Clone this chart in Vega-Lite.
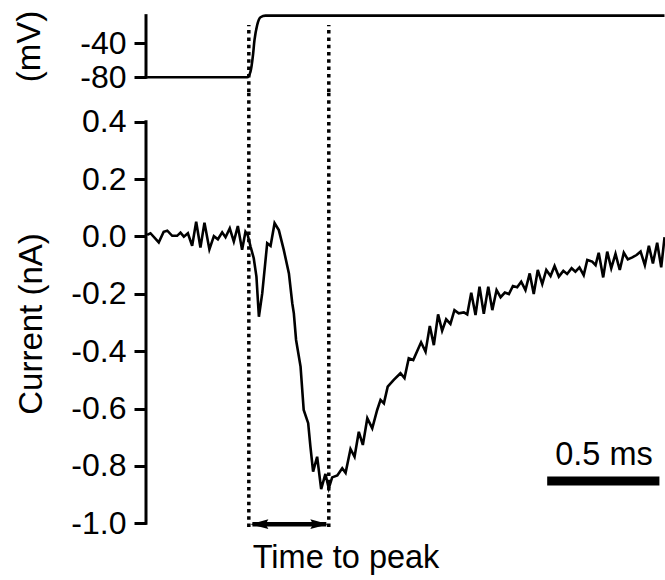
{
  "$schema": "https://vega.github.io/schema/vega-lite/v6.json",
  "background": "white",
  "padding": {"left": 13, "top": 0, "right": 0, "bottom": 0},
  "spacing": 0,
  "bounds": "flush",
  "config": {
    "view": {"stroke": null},
    "font": "Liberation Sans",
    "axis": {
      "domain": false, "grid": false, "ticks": true, "tickColor": "black", "tickWidth": 3, "tickSize": 12,
      "labelFont": "Liberation Sans", "labelFontSize": 32, "labelColor": "black", "labelPadding": 8,
      "titleFont": "Liberation Sans", "titleFontSize": 33, "titleFontWeight": "normal", "titleColor": "black"
    }
  },
  "datasets": {
    "voltage": [
      {"t": 0.005, "v": -80}, {"t": 0.452, "v": -80}, {"t": 0.4665, "v": -73.4}, {"t": 0.4768, "v": -55.8},
      {"t": 0.4844, "v": -36.1}, {"t": 0.4964, "v": -18.5}, {"t": 0.5112, "v": -9.4}, {"t": 0.5335, "v": -7.5},
      {"t": 2.3147, "v": -7.5}
    ],
    "current": [
      {"t": 0.005, "i": 0.005}, {"t": 0.020, "i": 0.011}, {"t": 0.057, "i": -0.021}, {"t": 0.079, "i": 0.016},
      {"t": 0.095, "i": 0.020}, {"t": 0.117, "i": 0.002}, {"t": 0.139, "i": 0.002}, {"t": 0.154, "i": 0.013},
      {"t": 0.169, "i": -0.001}, {"t": 0.187, "i": 0.011}, {"t": 0.206, "i": -0.033}, {"t": 0.224, "i": 0.051},
      {"t": 0.243, "i": -0.039}, {"t": 0.261, "i": 0.048}, {"t": 0.283, "i": -0.045}, {"t": 0.303, "i": 0.001},
      {"t": 0.321, "i": -0.010}, {"t": 0.340, "i": 0.014}, {"t": 0.355, "i": -0.003}, {"t": 0.374, "i": 0.028},
      {"t": 0.392, "i": -0.018}, {"t": 0.410, "i": 0.036}, {"t": 0.429, "i": -0.047}, {"t": 0.444, "i": 0.016},
      {"t": 0.454, "i": 0.005}, {"t": 0.467, "i": -0.036}, {"t": 0.481, "i": -0.076}, {"t": 0.493, "i": -0.140},
      {"t": 0.504, "i": -0.280}, {"t": 0.519, "i": -0.198}, {"t": 0.541, "i": -0.024}, {"t": 0.556, "i": -0.033},
      {"t": 0.574, "i": 0.046}, {"t": 0.593, "i": 0.022}, {"t": 0.615, "i": -0.047}, {"t": 0.638, "i": -0.129},
      {"t": 0.653, "i": -0.233}, {"t": 0.660, "i": -0.268}, {"t": 0.670, "i": -0.361}, {"t": 0.690, "i": -0.454},
      {"t": 0.704, "i": -0.605}, {"t": 0.724, "i": -0.651}, {"t": 0.734, "i": -0.733}, {"t": 0.746, "i": -0.820},
      {"t": 0.764, "i": -0.768}, {"t": 0.782, "i": -0.881}, {"t": 0.801, "i": -0.828}, {"t": 0.816, "i": -0.878},
      {"t": 0.831, "i": -0.840}, {"t": 0.854, "i": -0.833}, {"t": 0.876, "i": -0.808}, {"t": 0.891, "i": -0.824},
      {"t": 0.913, "i": -0.741}, {"t": 0.931, "i": -0.768}, {"t": 0.950, "i": -0.681}, {"t": 0.968, "i": -0.727},
      {"t": 0.988, "i": -0.634}, {"t": 1.010, "i": -0.669}, {"t": 1.032, "i": -0.605}, {"t": 1.047, "i": -0.570},
      {"t": 1.062, "i": -0.582}, {"t": 1.079, "i": -0.524}, {"t": 1.106, "i": -0.500}, {"t": 1.136, "i": -0.477},
      {"t": 1.154, "i": -0.494}, {"t": 1.173, "i": -0.425}, {"t": 1.193, "i": -0.431}, {"t": 1.228, "i": -0.369},
      {"t": 1.248, "i": -0.402}, {"t": 1.267, "i": -0.312}, {"t": 1.285, "i": -0.379}, {"t": 1.304, "i": -0.272},
      {"t": 1.322, "i": -0.329}, {"t": 1.340, "i": -0.289}, {"t": 1.359, "i": -0.305}, {"t": 1.377, "i": -0.257},
      {"t": 1.396, "i": -0.268}, {"t": 1.419, "i": -0.265}, {"t": 1.434, "i": -0.272}, {"t": 1.452, "i": -0.196},
      {"t": 1.471, "i": -0.274}, {"t": 1.489, "i": -0.175}, {"t": 1.508, "i": -0.270}, {"t": 1.528, "i": -0.175},
      {"t": 1.546, "i": -0.257}, {"t": 1.565, "i": -0.187}, {"t": 1.583, "i": -0.212}, {"t": 1.602, "i": -0.196},
      {"t": 1.620, "i": -0.201}, {"t": 1.638, "i": -0.173}, {"t": 1.657, "i": -0.177}, {"t": 1.675, "i": -0.158},
      {"t": 1.694, "i": -0.187}, {"t": 1.713, "i": -0.129}, {"t": 1.731, "i": -0.201}, {"t": 1.749, "i": -0.117},
      {"t": 1.769, "i": -0.166}, {"t": 1.787, "i": -0.117}, {"t": 1.806, "i": -0.138}, {"t": 1.824, "i": -0.103},
      {"t": 1.843, "i": -0.140}, {"t": 1.863, "i": -0.120}, {"t": 1.880, "i": -0.131}, {"t": 1.900, "i": -0.111},
      {"t": 1.917, "i": -0.123}, {"t": 1.935, "i": -0.108}, {"t": 1.954, "i": -0.135}, {"t": 1.970, "i": -0.082},
      {"t": 1.992, "i": -0.088}, {"t": 2.007, "i": -0.100}, {"t": 2.021, "i": -0.057}, {"t": 2.041, "i": -0.143},
      {"t": 2.059, "i": -0.053}, {"t": 2.077, "i": -0.111}, {"t": 2.096, "i": -0.061}, {"t": 2.115, "i": -0.117},
      {"t": 2.133, "i": -0.057}, {"t": 2.151, "i": -0.080}, {"t": 2.171, "i": -0.073}, {"t": 2.190, "i": -0.065},
      {"t": 2.208, "i": -0.053}, {"t": 2.227, "i": -0.100}, {"t": 2.245, "i": -0.033}, {"t": 2.263, "i": -0.094},
      {"t": 2.282, "i": -0.022}, {"t": 2.300, "i": -0.108}, {"t": 2.315, "i": -0.003}
    ]
  },
  "vconcat": [
    {
      "width": 520,
      "height": 92,
      "layer": [
        {
          "data": {"values": [{"t": 0, "lo": -80, "hi": -7.5}]},
          "mark": {"type": "rule", "strokeWidth": 3, "color": "black", "strokeCap": "square"},
          "encoding": {
            "x": {"field": "t", "type": "quantitative", "scale": {"domain": [0, 2.3214], "nice": false, "zero": false}, "axis": null},
            "y": {"field": "lo", "type": "quantitative", "scale": {"domain": [-97.3, 10.9], "nice": false, "zero": false},
                  "axis": {"values": [-40, -80], "title": "(mV)", "titlePadding": 33, "labelExpr": "replace(datum.label, '\u2212', '-')"}},
            "y2": {"field": "hi"}
          }
        },
        {
          "data": {"name": "voltage"},
          "mark": {"type": "line", "strokeWidth": 2.6, "color": "black", "interpolate": "monotone"},
          "encoding": {
            "x": {"field": "t", "type": "quantitative", "axis": null},
            "y": {"field": "v", "type": "quantitative",
                  "axis": {"values": [-40, -80], "title": "(mV)", "titlePadding": 33, "labelExpr": "replace(datum.label, '\u2212', '-')"}}
          }
        },
        {
          "data": {"values": [{"t": 0.459, "lo": -97.3, "hi": -18.5}, {"t": 0.816, "lo": -97.3, "hi": -18.5}]},
          "mark": {"type": "rule", "strokeWidth": 3.5, "color": "black", "strokeDash": [3.5, 3.8]},
          "encoding": {
            "x": {"field": "t", "type": "quantitative", "axis": null},
            "y": {"field": "lo", "type": "quantitative",
                  "axis": {"values": [-40, -80], "title": "(mV)", "titlePadding": 33, "labelExpr": "replace(datum.label, '\u2212', '-')"}},
            "y2": {"field": "hi"}
          }
        }
      ]
    },
    {
      "width": 520,
      "height": 463,
      "layer": [
        {
          "data": {"values": [{"t": 0, "lo": -1.0, "hi": 0.4}]},
          "mark": {"type": "rule", "strokeWidth": 3, "color": "black", "strokeCap": "square"},
          "encoding": {
            "x": {"field": "t", "type": "quantitative", "scale": {"domain": [0, 2.3214], "nice": false, "zero": false}, "axis": null},
            "y": {"field": "lo", "type": "quantitative", "scale": {"domain": [-1.1105, 0.5033], "nice": false, "zero": false},
                  "axis": {"values": [0.4, 0.2, 0, -0.2, -0.4, -0.6, -0.8, -1.0], "format": ".1f", "title": "Current (nA)", "titlePadding": 22.7, "labelExpr": "replace(datum.label, '\u2212', '-')"}},
            "y2": {"field": "hi"}
          }
        },
        {
          "data": {"name": "current"},
          "mark": {"type": "line", "strokeWidth": 2.6, "color": "black"},
          "encoding": {
            "x": {"field": "t", "type": "quantitative", "axis": null},
            "y": {"field": "i", "type": "quantitative",
                  "axis": {"values": [0.4, 0.2, 0, -0.2, -0.4, -0.6, -0.8, -1.0], "format": ".1f", "title": "Current (nA)", "titlePadding": 22.7, "labelExpr": "replace(datum.label, '\u2212', '-')"}}
          }
        },
        {
          "data": {"values": [{"t": 0.459, "lo": -1.013, "hi": 0.5033}, {"t": 0.816, "lo": -1.013, "hi": 0.5033}]},
          "mark": {"type": "rule", "strokeWidth": 3.5, "color": "black", "strokeDash": [3.5, 3.8]},
          "encoding": {
            "x": {"field": "t", "type": "quantitative", "axis": null},
            "y": {"field": "lo", "type": "quantitative",
                  "axis": {"values": [0.4, 0.2, 0, -0.2, -0.4, -0.6, -0.8, -1.0], "format": ".1f", "title": "Current (nA)", "titlePadding": 22.7, "labelExpr": "replace(datum.label, '\u2212', '-')"}},
            "y2": {"field": "hi"}
          }
        },
        {
          "data": {"values": [{"t1": 0.475, "t2": 0.805, "y": -1.003}]},
          "mark": {"type": "rule", "strokeWidth": 4.5, "color": "black"},
          "encoding": {
            "x": {"field": "t1", "type": "quantitative", "axis": null},
            "x2": {"field": "t2"},
            "y": {"field": "y", "type": "quantitative",
                  "axis": {"values": [0.4, 0.2, 0, -0.2, -0.4, -0.6, -0.8, -1.0], "format": ".1f", "title": "Current (nA)", "titlePadding": 22.7, "labelExpr": "replace(datum.label, '\u2212', '-')"}}
          }
        },
        {
          "data": {"values": [{"t": 0.466, "y": -1.003, "dir": "L"}, {"t": 0.814, "y": -1.003, "dir": "R"}]},
          "mark": {"type": "point", "filled": true, "color": "black", "opacity": 1, "size": 324, "strokeWidth": 0},
          "encoding": {
            "x": {"field": "t", "type": "quantitative", "axis": null},
            "y": {"field": "y", "type": "quantitative",
                  "axis": {"values": [0.4, 0.2, 0, -0.2, -0.4, -0.6, -0.8, -1.0], "format": ".1f", "title": "Current (nA)", "titlePadding": 22.7, "labelExpr": "replace(datum.label, '\u2212', '-')"}},
            "shape": {"field": "dir", "type": "nominal", "legend": null,
                      "scale": {"domain": ["L", "R"], "range": ["M 0 0 L 2 -0.55 L 1.7 0 L 2 0.55 Z", "M 0 0 L -2 -0.55 L -1.7 0 L -2 0.55 Z"]}}
          }
        },
        {
          "data": {"values": [{"t1": 1.791, "t2": 2.292, "y": -0.8526}]},
          "mark": {"type": "rule", "strokeWidth": 9, "color": "black", "strokeCap": "butt"},
          "encoding": {
            "x": {"field": "t1", "type": "quantitative", "axis": null},
            "x2": {"field": "t2"},
            "y": {"field": "y", "type": "quantitative",
                  "axis": {"values": [0.4, 0.2, 0, -0.2, -0.4, -0.6, -0.8, -1.0], "format": ".1f", "title": "Current (nA)", "titlePadding": 22.7, "labelExpr": "replace(datum.label, '\u2212', '-')"}}
          }
        },
        {
          "data": {"values": [{"t": 2.0446, "y": -0.7968, "label": "0.5 ms"}, {"t": 0.893, "y": -1.1558, "label": "Time to peak"}]},
          "mark": {"type": "text", "font": "Liberation Sans", "fontSize": 32.5, "color": "black", "align": "center", "baseline": "alphabetic"},
          "encoding": {
            "x": {"field": "t", "type": "quantitative", "axis": null},
            "y": {"field": "y", "type": "quantitative",
                  "axis": {"values": [0.4, 0.2, 0, -0.2, -0.4, -0.6, -0.8, -1.0], "format": ".1f", "title": "Current (nA)", "titlePadding": 22.7, "labelExpr": "replace(datum.label, '\u2212', '-')"}},
            "text": {"field": "label", "type": "nominal"}
          }
        }
      ]
    }
  ]
}
